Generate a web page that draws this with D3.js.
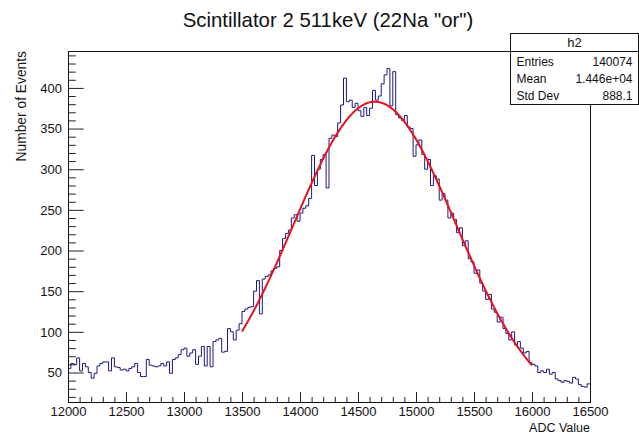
<!DOCTYPE html>
<html>
<head>
<meta charset="utf-8">
<script src="https://cdn.jsdelivr.net/npm/d3@7"></script>
<style>
  body { margin: 0; background: #fff; }
  svg { display: block; font-family: "Liberation Sans", Arial, sans-serif; }
  .axis text { font-size: 13px; fill: #111; }
  .axis path { display: none; }
  .axis line { stroke: #222; }
</style>
</head>
<body>
<svg id="chart" width="639" height="436"></svg>
<script>
// histogram h2: 180 bins of 25 ADC counts from 12000 to 16500
const binStart = 12000;
const binWidth = 25;
const counts = [
  55, 61, 60, 68, 52, 61, 57, 50, 43, 49, 58, 61, 63, 63, 52, 68, 57, 56, 53, 54,
  52, 55, 57, 61, 50, 45, 45, 66, 59, 58, 57, 58, 61, 58, 63, 49, 66, 68, 72, 78,
  80, 70, 74, 78, 60, 70, 82, 58, 82, 57, 88, 90, 92, 75, 76, 104, 100, 90, 102, 110,
  125, 128, 130, 131, 150, 163, 122, 165, 168, 170, 175, 178, 180, 200, 215, 221, 225, 240, 244, 236,
  246, 252, 255, 264, 317, 280, 300, 312, 318, 277, 338, 342, 340, 357, 379, 412, 383, 385, 376, 381,
  372, 365, 376, 366, 375, 397, 385, 390, 405, 416, 424, 378, 420, 367, 363, 360, 366, 352, 350, 316,
  330, 336, 318, 300, 312, 280, 292, 288, 262, 270, 262, 240, 246, 238, 222, 228, 206, 212, 190, 186,
  172, 176, 160, 150, 140, 146, 128, 124, 112, 118, 104, 98, 90, 100, 84, 88, 80, 74, 76, 62,
  60, 58, 50, 52, 50, 54, 48, 50, 42, 40, 38, 40, 39, 37, 44, 42, 35, 33, 32, 36
];

// gaussian fit drawn over its fit range
const fitConstant = 383;
const fitMean = 14645;
const fitSigma = 700;
const fitRange = [13500, 16000];

const xTicks = [12000, 12500, 13000, 13500, 14000, 14500, 15000, 15500, 16000, 16500];
const yTicks = [50, 100, 150, 200, 250, 300, 350, 400];

const statsLabels = ["Entries", "Mean", "Std Dev"];
const statsValues = ["140074", "1.446e+04", "888.1"];

const frame = { left: 68, right: 590, top: 51, bottom: 402 };

const svg = d3.select("#chart");

const x = d3.scaleLinear().domain([12000, 16500]).range([frame.left, frame.right]);
const y = d3.scaleLinear().domain([13.7, 445.4]).range([frame.bottom, frame.top]);

// minor ticks
const xMinor = d3.range(12000, 16501, 100).filter(v => v % 500 !== 0);
const yMinor = d3.range(20, 445, 10).filter(v => v % 50 !== 0);

svg.append("g")
  .attr("class", "axis")
  .attr("transform", `translate(0,${frame.bottom})`)
  .call(d3.axisBottom(x).tickValues(xMinor).tickSize(-5).tickFormat(""));
svg.append("g")
  .attr("class", "axis")
  .attr("transform", `translate(0,${frame.bottom})`)
  .call(d3.axisBottom(x).tickValues(xTicks).tickSize(-10).tickPadding(5).tickFormat(d3.format("d")));

svg.append("g")
  .attr("class", "axis")
  .attr("transform", `translate(${frame.left},0)`)
  .call(d3.axisLeft(y).tickValues(yMinor).tickSize(-7.8).tickFormat(""));
svg.append("g")
  .attr("class", "axis")
  .attr("transform", `translate(${frame.left},0)`)
  .call(d3.axisLeft(y).tickValues(yTicks).tickSize(-15.7).tickPadding(6).tickFormat(d3.format("d")));

// histogram outline
const steps = counts.map((c, i) => [binStart + i * binWidth, c]);
steps.push([binStart + counts.length * binWidth, counts[counts.length - 1]]);

svg.append("path")
  .datum(steps)
  .attr("fill", "none")
  .attr("stroke", "#1a1a80")
  .attr("stroke-width", 1)
  .attr("d", d3.line().x(d => x(d[0])).y(d => y(d[1])).curve(d3.curveStepAfter));

// fit curve
const fitPts = d3.range(fitRange[0], fitRange[1] + 1, 12.5).map(v =>
  [v, fitConstant * Math.exp(-0.5 * Math.pow((v - fitMean) / fitSigma, 2))]);

svg.append("path")
  .datum(fitPts)
  .attr("fill", "none")
  .attr("stroke", "#e8101e")
  .attr("stroke-width", 2)
  .attr("d", d3.line().x(d => x(d[0])).y(d => y(d[1])));

// frame
svg.append("rect")
  .attr("x", frame.left + 0.5)
  .attr("y", frame.top + 0.5)
  .attr("width", frame.right - frame.left)
  .attr("height", frame.bottom - frame.top)
  .attr("fill", "none")
  .attr("stroke", "#111");

// title and axis labels
svg.append("text")
  .attr("x", 328)
  .attr("y", 27)
  .attr("text-anchor", "middle")
  .style("font-size", "20.4px")
  .attr("fill", "#111")
  .text('Scintillator 2 511keV (22Na "or")');

svg.append("text")
  .attr("x", frame.right)
  .attr("y", 432)
  .attr("text-anchor", "end")
  .style("font-size", "12.5px")
  .attr("fill", "#111")
  .text("ADC Value");

svg.append("text")
  .attr("transform", `translate(26,${frame.top}) rotate(-90)`)
  .attr("text-anchor", "end")
  .style("font-size", "13.8px")
  .attr("fill", "#111")
  .text("Number of Events");

// stats box
const box = { x: 510.5, y: 33.5, w: 128, h: 71 };
const stats = svg.append("g");
stats.append("rect")
  .attr("x", box.x).attr("y", box.y)
  .attr("width", box.w).attr("height", box.h)
  .attr("fill", "#fff").attr("stroke", "#111");
stats.append("line")
  .attr("x1", box.x).attr("x2", box.x + box.w)
  .attr("y1", 51.5).attr("y2", 51.5)
  .attr("stroke", "#111");
stats.append("text")
  .attr("x", box.x + box.w / 2).attr("y", 47)
  .attr("text-anchor", "middle")
  .style("font-size", "13px").attr("fill", "#111")
  .text("h2");
statsLabels.forEach((lab, i) => {
  const ty = 66 + i * 17;
  stats.append("text")
    .attr("x", box.x + 6).attr("y", ty)
    .style("font-size", "12px").attr("fill", "#111")
    .text(lab);
  stats.append("text")
    .attr("x", box.x + box.w - 6).attr("y", ty)
    .attr("text-anchor", "end")
    .style("font-size", "12px").attr("fill", "#111")
    .text(statsValues[i]);
});
</script>
</body>
</html>
